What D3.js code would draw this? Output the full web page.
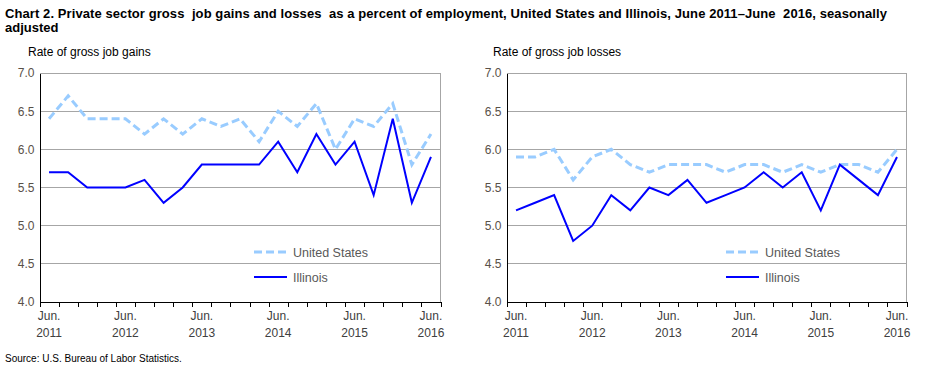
<!DOCTYPE html>
<html>
<head>
<meta charset="utf-8">
<script src="https://cdn.jsdelivr.net/npm/d3@7"></script>
<style>
  body { margin: 0; background: #fff; }
  svg { display: block; font-family: "Liberation Sans", Arial, sans-serif; }
</style>
</head>
<body>
<svg id="chart" width="930" height="372"></svg>
<script>
// quarters, Jun 2011 .. Jun 2016
var quarters = ["2011Q2","2011Q3","2011Q4","2012Q1","2012Q2","2012Q3","2012Q4","2013Q1","2013Q2","2013Q3","2013Q4",
  "2014Q1","2014Q2","2014Q3","2014Q4","2015Q1","2015Q2","2015Q3","2015Q4","2016Q1","2016Q2"];
var yearLabels = ["2011","2012","2013","2014","2015","2016"];
var yTicks = [4.0, 4.5, 5.0, 5.5, 6.0, 6.5, 7.0];

var gainsUS = [6.4,6.7,6.4,6.4,6.4,6.2,6.4,6.2,6.4,6.3,6.4,6.1,6.5,6.3,6.6,6.0,6.4,6.3,6.6,5.8,6.2];
var gainsIL = [5.7,5.7,5.5,5.5,5.5,5.6,5.3,5.5,5.8,5.8,5.8,5.8,6.1,5.7,6.2,5.8,6.1,5.4,6.4,5.3,5.9];
var lossesUS = [5.9,5.9,6.0,5.6,5.9,6.0,5.8,5.7,5.8,5.8,5.8,5.7,5.8,5.8,5.7,5.8,5.7,5.8,5.8,5.7,6.0];
var lossesIL = [5.2,5.3,5.4,4.8,5.0,5.4,5.2,5.5,5.4,5.6,5.3,5.4,5.5,5.7,5.5,5.7,5.2,5.8,5.6,5.4,5.9];

var svg = d3.select("#chart");

svg.append("text").attr("x", 5).attr("y", 17.5)
  .style("font-size", "13px").style("font-weight", "bold").style("white-space", "pre")
  .attr("textLength", 882).attr("lengthAdjust", "spacing")
  .text("Chart 2. Private sector gross  job gains and losses  as a percent of employment, United States and Illinois, June 2011\u2013June  2016, seasonally");
svg.append("text").attr("x", 5).attr("y", 31.5)
  .style("font-size", "13px").style("font-weight", "bold")
  .text("adjusted");

svg.append("text").attr("x", 5).attr("y", 362)
  .style("font-size", "10px").attr("fill", "#000")
  .text("Source: U.S. Bureau of Labor Statistics.");

function drawPanel(opts) {
  var x = d3.scaleBand().domain(quarters).range([opts.left, opts.right]);
  var y = d3.scaleLinear().domain([4, 7]).range([302, 73]);
  var g = svg.append("g");

  g.append("text").attr("x", opts.titleX).attr("y", 56)
    .style("font-size", "12px").attr("fill", "#000").text(opts.title);

  // gridlines
  g.selectAll("line.grid").data(yTicks.slice(1)).enter().append("line")
    .attr("x1", opts.left).attr("x2", opts.right)
    .attr("y1", d => y(d)).attr("y2", d => y(d))
    .attr("stroke", "#a6a6a6").attr("stroke-width", 1)
    .attr("shape-rendering", "crispEdges");
  // right border
  g.append("line").attr("x1", opts.right).attr("x2", opts.right)
    .attr("y1", y(7)).attr("y2", y(4))
    .attr("stroke", "#a6a6a6").attr("shape-rendering", "crispEdges");

  // y axis
  var yAxis = g.append("g").attr("transform", "translate(" + opts.left + ",0)")
    .call(d3.axisLeft(y).tickValues(yTicks).tickFormat(d3.format(".1f")).tickSize(0).tickPadding(5));
  yAxis.select(".domain").attr("stroke", "#000").attr("shape-rendering", "crispEdges");
  yAxis.selectAll("text").style("font-size", "12px").style("font-family", "'Liberation Sans', Arial, sans-serif")
    .attr("fill", "#595048");

  // x axis: ticks at band edges
  var edges = quarters.map(q => x(q)).concat([opts.right]);
  g.append("line").attr("x1", opts.left).attr("x2", opts.right)
    .attr("y1", y(4)).attr("y2", y(4))
    .attr("stroke", "#000").attr("shape-rendering", "crispEdges");
  g.selectAll("line.xt").data(edges).enter().append("line")
    .attr("x1", d => Math.round(d) + 0.5).attr("x2", d => Math.round(d) + 0.5)
    .attr("y1", y(4)).attr("y2", y(4) + 5)
    .attr("stroke", "#000");

  var labelQ = quarters.filter((q, i) => i % 4 === 0);
  var lab = g.selectAll("g.xl").data(labelQ).enter().append("g")
    .attr("transform", d => "translate(" + (x(d) + x.bandwidth() / 2) + ",0)");
  lab.append("text").attr("y", 320).attr("text-anchor", "middle")
    .style("font-size", "12px").attr("fill", "#404040").text("Jun.");
  lab.append("text").attr("y", 337).attr("text-anchor", "middle")
    .style("font-size", "12px").attr("fill", "#404040").text((d, i) => yearLabels[i]);

  var line = d3.line().x((d, i) => x(quarters[i]) + x.bandwidth() / 2).y(d => y(d));

  g.append("path").datum(opts.us).attr("d", line)
    .attr("fill", "none").attr("stroke", "#99ccff").attr("stroke-width", 3)
    .attr("stroke-dasharray", "8,4");
  g.append("path").datum(opts.il).attr("d", line)
    .attr("fill", "none").attr("stroke", "#0000ff").attr("stroke-width", 2);

  // legend
  var lx = opts.legendX;
  g.append("line").attr("x1", lx).attr("x2", lx + 33).attr("y1", 252).attr("y2", 252)
    .attr("stroke", "#99ccff").attr("stroke-width", 3).attr("stroke-dasharray", "8,4");
  g.append("text").attr("x", lx + 39).attr("y", 256.5)
    .style("font-size", "12.5px").attr("fill", "#595959").text("United States");
  g.append("line").attr("x1", lx).attr("x2", lx + 33).attr("y1", 277).attr("y2", 277)
    .attr("stroke", "#0000ff").attr("stroke-width", 2);
  g.append("text").attr("x", lx + 39).attr("y", 281.5)
    .style("font-size", "12.5px").attr("fill", "#595959").text("Illinois");
}

drawPanel({ left: 39.5, right: 440.5, title: "Rate of gross job gains", titleX: 28,
  us: gainsUS, il: gainsIL, legendX: 254 });
drawPanel({ left: 506.5, right: 906.5, title: "Rate of gross job losses", titleX: 493,
  us: lossesUS, il: lossesIL, legendX: 726 });
</script>
</body>
</html>
